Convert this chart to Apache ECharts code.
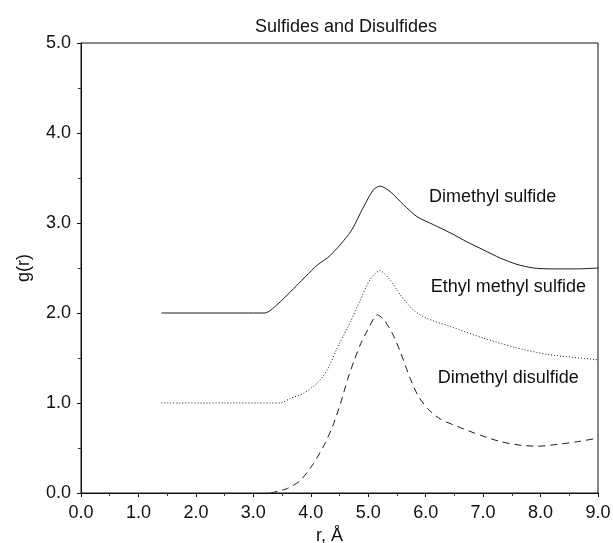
<!DOCTYPE html>
<html>
<head>
<meta charset="utf-8">
<script src="https://cdn.jsdelivr.net/npm/echarts@6/dist/echarts.min.js"></script>
<style>
  html, body { margin: 0; padding: 0; background: #fff; }
  #chart { width: 613px; height: 543px; }
</style>
</head>
<body>
<div id="chart"></div>
<script>
// g(r) curves, [r, g(r)]
const dimethylSulfide = [
  [1.4, 2.0], [2.2, 2.0], [3.0, 2.0], [3.2, 2.0], [3.41, 2.09], [3.7, 2.27],
  [4.11, 2.53], [4.34, 2.64], [4.69, 2.9], [4.92, 3.18], [5.09, 3.37],
  [5.21, 3.41], [5.38, 3.35], [5.62, 3.2], [5.85, 3.07], [6.14, 2.98],
  [6.43, 2.89], [6.72, 2.79], [7.01, 2.7], [7.3, 2.61], [7.59, 2.54],
  [7.88, 2.5], [8.17, 2.49], [8.64, 2.49], [9.0, 2.5]
]
const ethylMethylSulfide = [
  [1.4, 1.0], [2.5, 1.0], [3.3, 1.0], [3.47, 1.0], [3.64, 1.05], [3.88, 1.11],
  [4.11, 1.22], [4.29, 1.37], [4.45, 1.6], [4.58, 1.76], [4.69, 1.9],
  [4.86, 2.14], [5.03, 2.37], [5.2, 2.47], [5.38, 2.37], [5.56, 2.2],
  [5.79, 2.03], [6.02, 1.94], [6.43, 1.85], [7.01, 1.72], [7.54, 1.62],
  [8.12, 1.54], [9.0, 1.48]
]
const dimethylDisulfide = [
  [3.3, 0.0], [3.59, 0.05], [3.82, 0.14], [4.05, 0.33], [4.23, 0.53],
  [4.38, 0.74], [4.52, 1.0], [4.64, 1.26], [4.76, 1.48], [4.87, 1.66],
  [4.99, 1.81], [5.16, 1.98], [5.28, 1.92], [5.43, 1.76], [5.57, 1.55],
  [5.72, 1.29], [5.86, 1.09], [6.03, 0.94], [6.26, 0.82], [6.55, 0.74],
  [6.96, 0.64], [7.31, 0.57], [7.66, 0.53], [7.95, 0.52], [8.29, 0.54],
  [8.64, 0.57], [9.0, 0.61]
]
const seriesNames = ['Dimethyl sulfide', 'Ethyl methyl sulfide', 'Dimethyl disulfide']

const font = 'Liberation Sans, Arial, Helvetica, sans-serif'

function curve (name, data, lineType, labelAt) {
  return {
    name: name,
    type: 'line',
    data: data,
    smooth: 0.25,
    symbol: 'none',
    silent: true,
    lineStyle: { color: '#1a1a1a', width: 1, type: lineType },
    markPoint: {
      symbol: 'circle',
      symbolSize: 0,
      silent: true,
      data: [{ coord: labelAt }],
      label: {
        show: true,
        position: 'right',
        distance: 0,
        formatter: name,
        color: '#111',
        fontSize: 18,
        fontFamily: font
      }
    }
  }
}

let chart = echarts.init(document.getElementById('chart'))
let option = {
  animation: false,
  backgroundColor: '#fff',
  title: {
    text: 'Sulfides and Disulfides',
    left: 250,
    top: 13,
    textStyle: { fontSize: 18, fontWeight: 'normal', color: '#111', fontFamily: font }
  },
  grid: {
    left: 81, right: 15, top: 43, bottom: 50,
    outerBoundsMode: 'none',
    containLabel: false,
    show: true, borderColor: '#111', borderWidth: 1
  },
  xAxis: {
    type: 'value',
    min: 0, max: 9, interval: 1,
    name: 'r, Å',
    nameLocation: 'middle',
    nameGap: 31,
    nameTextStyle: { fontSize: 18, color: '#111', fontFamily: font, padding: [0, 20, 0, 0] },
    axisLine: { show: true, lineStyle: { color: '#111' } },
    axisTick: { show: true, length: 4, lineStyle: { color: '#111' } },
    minorTick: { show: true, splitNumber: 2, length: 3, lineStyle: { color: '#333' } },
    splitLine: { show: false },
    axisLabel: {
      margin: 11, fontSize: 18, color: '#111', fontFamily: font,
      formatter: v => v.toFixed(1)
    }
  },
  yAxis: {
    type: 'value',
    min: 0, max: 5, interval: 1,
    name: 'g(r)',
    nameLocation: 'middle',
    nameGap: 48,
    nameTextStyle: { fontSize: 18, color: '#111', fontFamily: font },
    axisLine: { show: true, lineStyle: { color: '#111' } },
    axisTick: { show: true, length: 4, lineStyle: { color: '#111' } },
    minorTick: { show: true, splitNumber: 2, length: 3, lineStyle: { color: '#333' } },
    splitLine: { show: false },
    axisLabel: {
      margin: 10, fontSize: 18, color: '#111', fontFamily: font,
      formatter: v => v.toFixed(1)
    }
  },
  series: [
    curve(seriesNames[0], dimethylSulfide, 'solid', [6.06, 3.29]),
    curve(seriesNames[1], ethylMethylSulfide, [1, 2], [6.09, 2.29]),
    curve(seriesNames[2], dimethylDisulfide, [7, 5], [6.21, 1.28])
  ]
}
chart.setOption(option)
</script>
</body>
</html>
